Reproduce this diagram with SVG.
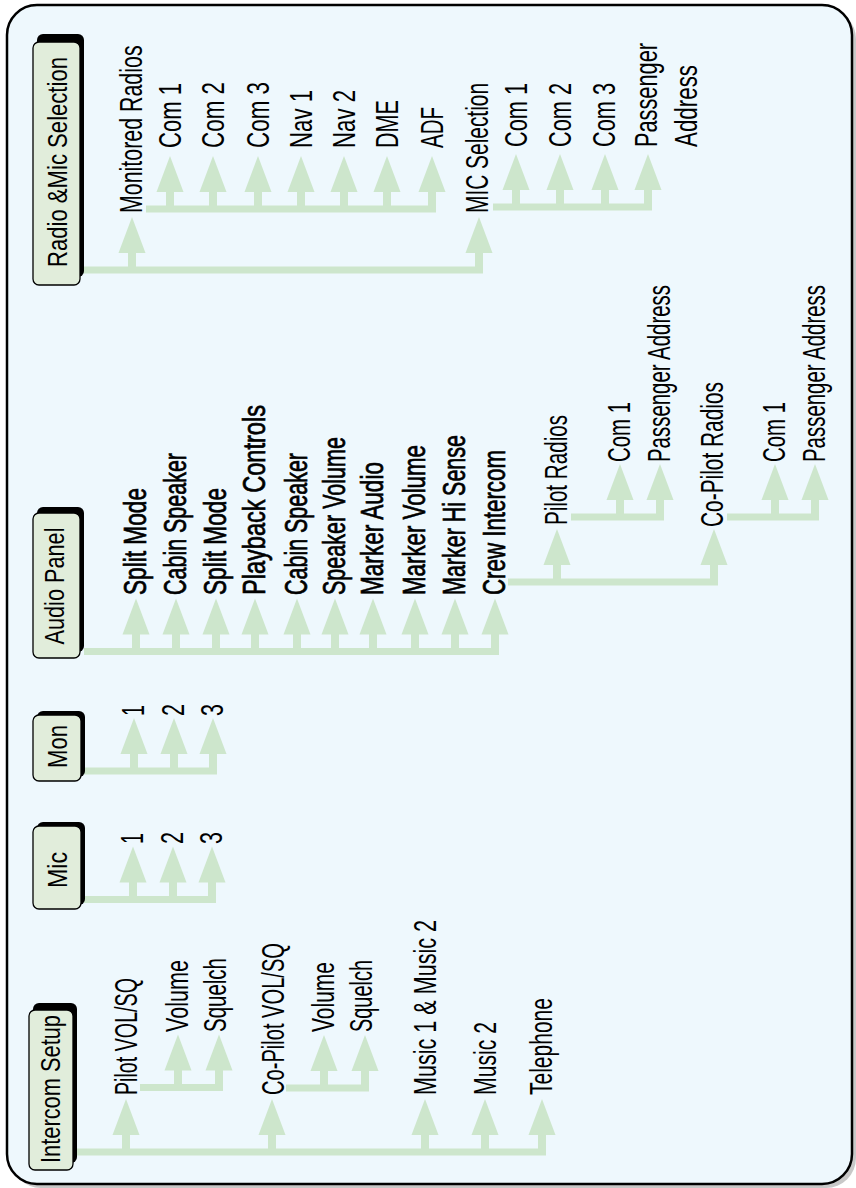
<svg xmlns="http://www.w3.org/2000/svg" xmlns:xlink="http://www.w3.org/1999/xlink" width="856" height="1188" viewBox="0 0 856 1188">
<defs>
<style>
.frame{fill:#eef8fd;stroke:#000;stroke-width:2.5}
.fsh{fill:#c8c8c8}
.box{fill:#e1eddb;stroke:#000;stroke-width:1.3}
.bsh{fill:#000}
.nt{font-family:"Liberation Sans",Arial,sans-serif;font-size:28px;fill:#000;text-anchor:middle}
.l{font-family:"Liberation Sans",Arial,sans-serif;font-size:31px;fill:#000}
.b{stroke:#000;stroke-width:0.7}
.tr{stroke:#cde6cc;stroke-width:7;fill:none}
.ar{fill:#cde6cc}
</style>
<g id="a" class="ar"><polygon points="0,-53 13.5,-17 -13.5,-17"/><rect x="-4" y="-18" width="8" height="18"/></g>
</defs>
<rect class="fsh" x="11" y="9" width="845" height="1179" rx="30"/>
<rect class="frame" x="7" y="5" width="845" height="1179" rx="30"/>

<g id="connectors">
<line class="tr" x1="83" y1="270" x2="483" y2="270"/>
<line class="tr" x1="146" y1="209" x2="436" y2="209"/>
<line class="tr" x1="493" y1="207" x2="652" y2="207"/>
<line class="tr" x1="84" y1="651.5" x2="499" y2="651.5"/>
<line class="tr" x1="508" y1="582" x2="718" y2="582"/>
<line class="tr" x1="571" y1="517" x2="664" y2="517"/>
<line class="tr" x1="727" y1="517" x2="819" y2="517"/>
<line class="tr" x1="84" y1="771" x2="217" y2="771"/>
<line class="tr" x1="84" y1="899.5" x2="216" y2="899.5"/>
<line class="tr" x1="73" y1="1152" x2="546" y2="1152"/>
<line class="tr" x1="140" y1="1087.5" x2="223" y2="1087.5"/>
<line class="tr" x1="286" y1="1088" x2="369" y2="1088"/>
<use href="#a" x="132" y="270"/><use href="#a" x="479" y="270"/>
<use href="#a" x="170" y="209"/><use href="#a" x="213" y="209"/><use href="#a" x="258" y="209"/><use href="#a" x="301" y="209"/><use href="#a" x="344" y="209"/><use href="#a" x="387" y="209"/><use href="#a" x="432" y="209"/>
<use href="#a" x="516" y="207"/><use href="#a" x="560" y="207"/><use href="#a" x="605" y="207"/><use href="#a" x="648" y="207"/>
<use href="#a" x="136" y="651.5"/><use href="#a" x="176" y="651.5"/><use href="#a" x="216" y="651.5"/><use href="#a" x="255" y="651.5"/><use href="#a" x="297" y="651.5"/><use href="#a" x="335" y="651.5"/><use href="#a" x="373" y="651.5"/><use href="#a" x="415" y="651.5"/><use href="#a" x="455" y="651.5"/><use href="#a" x="495" y="651.5"/>
<use href="#a" x="557" y="582"/><use href="#a" x="714" y="582"/>
<use href="#a" x="620" y="517"/><use href="#a" x="660" y="517"/><use href="#a" x="775" y="517"/><use href="#a" x="815" y="517"/>
<use href="#a" x="134" y="771"/><use href="#a" x="174" y="771"/><use href="#a" x="213" y="771"/>
<use href="#a" x="133" y="899.5"/><use href="#a" x="173" y="899.5"/><use href="#a" x="212" y="899.5"/>
<use href="#a" x="126" y="1152"/><use href="#a" x="272" y="1152"/><use href="#a" x="425" y="1152"/><use href="#a" x="485" y="1152"/><use href="#a" x="542" y="1152"/>
<use href="#a" x="178" y="1087.5"/><use href="#a" x="219" y="1087.5"/><use href="#a" x="324" y="1088"/><use href="#a" x="365" y="1088"/>
</g>

<g id="node-radio-mic">
<rect class="bsh" x="37" y="34" width="47" height="243" rx="6"/>
<rect class="box" x="33" y="42" width="47" height="243" rx="6"/>
<text class="nt" transform="translate(67,162) rotate(-90)" textLength="210" lengthAdjust="spacingAndGlyphs">Radio &amp;Mic Selection</text>
</g>
<g id="node-audio-panel">
<rect class="bsh" x="37" y="507" width="47" height="145" rx="6"/>
<rect class="box" x="33" y="513" width="47" height="145" rx="6"/>
<text class="nt" transform="translate(64,586) rotate(-90)" textLength="117" lengthAdjust="spacingAndGlyphs">Audio Panel</text>
</g>
<g id="node-mon">
<rect class="bsh" x="37" y="711" width="48" height="66" rx="6"/>
<rect class="box" x="33" y="715" width="48" height="66" rx="6"/>
<text class="nt" transform="translate(67,746.5) rotate(-90)" textLength="43" lengthAdjust="spacingAndGlyphs">Mon</text>
</g>
<g id="node-mic">
<rect class="bsh" x="37" y="822" width="48" height="83" rx="6"/>
<rect class="box" x="33" y="826" width="48" height="83" rx="6"/>
<text class="nt" transform="translate(67,870) rotate(-90)" textLength="36" lengthAdjust="spacingAndGlyphs">Mic</text>
</g>
<g id="node-intercom">
<rect class="bsh" x="33" y="1003" width="44" height="160" rx="6"/>
<rect class="box" x="29" y="1010" width="44" height="160" rx="6"/>
<text class="nt" transform="translate(60,1089) rotate(-90)" textLength="148" lengthAdjust="spacingAndGlyphs">Intercom Setup</text>
</g>

<g id="radio-children">
<g id="n-monitored"><text class="l" transform="translate(142,213) rotate(-90) scale(0.69,1)">Monitored Radios</text></g>
<g id="n-r-com1"><text class="l" transform="translate(181,148) rotate(-90)" textLength="65" lengthAdjust="spacingAndGlyphs">Com 1</text></g>
<g id="n-r-com2"><text class="l" transform="translate(224,148) rotate(-90)" textLength="66" lengthAdjust="spacingAndGlyphs">Com 2</text></g>
<g id="n-r-com3"><text class="l" transform="translate(269,148) rotate(-90)" textLength="66" lengthAdjust="spacingAndGlyphs">Com 3</text></g>
<g id="n-r-nav1"><text class="l" transform="translate(312,148) rotate(-90)" textLength="58" lengthAdjust="spacingAndGlyphs">Nav 1</text></g>
<g id="n-r-nav2"><text class="l" transform="translate(355,148) rotate(-90)" textLength="58" lengthAdjust="spacingAndGlyphs">Nav 2</text></g>
<g id="n-r-dme"><text class="l" transform="translate(398,148) rotate(-90)" textLength="48" lengthAdjust="spacingAndGlyphs">DME</text></g>
<g id="n-r-adf"><text class="l" transform="translate(443,148) rotate(-90)" textLength="41" lengthAdjust="spacingAndGlyphs">ADF</text></g>
<g id="n-mic-sel"><text class="l" transform="translate(488,213) rotate(-90)" textLength="130" lengthAdjust="spacingAndGlyphs">MIC Selection</text></g>
<g id="n-m-com1"><text class="l" transform="translate(527,147) rotate(-90)" textLength="64" lengthAdjust="spacingAndGlyphs">Com 1</text></g>
<g id="n-m-com2"><text class="l" transform="translate(571,147) rotate(-90)" textLength="64" lengthAdjust="spacingAndGlyphs">Com 2</text></g>
<g id="n-m-com3"><text class="l" transform="translate(615,147) rotate(-90)" textLength="64" lengthAdjust="spacingAndGlyphs">Com 3</text></g>
<g id="n-m-pa"><text class="l" transform="translate(657,147) rotate(-90)" textLength="104" lengthAdjust="spacingAndGlyphs">Passenger</text><text class="l" transform="translate(697,147) rotate(-90)" textLength="82" lengthAdjust="spacingAndGlyphs">Address</text></g>
</g>

<g id="audio-children">
<g id="n-a1"><text class="l b" transform="translate(146,595) rotate(-90)" textLength="107" lengthAdjust="spacingAndGlyphs">Split Mode</text></g>
<g id="n-a2"><text class="l b" transform="translate(186,595) rotate(-90)" textLength="142" lengthAdjust="spacingAndGlyphs">Cabin Speaker</text></g>
<g id="n-a3"><text class="l b" transform="translate(226,595) rotate(-90)" textLength="107" lengthAdjust="spacingAndGlyphs">Split Mode</text></g>
<g id="n-a4"><text class="l b" transform="translate(265,595) rotate(-90)" textLength="190" lengthAdjust="spacingAndGlyphs">Playback Controls</text></g>
<g id="n-a5"><text class="l b" transform="translate(307,595) rotate(-90)" textLength="142" lengthAdjust="spacingAndGlyphs">Cabin Speaker</text></g>
<g id="n-a6"><text class="l b" transform="translate(345,595) rotate(-90)" textLength="158" lengthAdjust="spacingAndGlyphs">Speaker Volume</text></g>
<g id="n-a7"><text class="l b" transform="translate(383,595) rotate(-90)" textLength="133" lengthAdjust="spacingAndGlyphs">Marker Audio</text></g>
<g id="n-a8"><text class="l b" transform="translate(425,595) rotate(-90)" textLength="150" lengthAdjust="spacingAndGlyphs">Marker Volume</text></g>
<g id="n-a9"><text class="l b" transform="translate(465,595) rotate(-90)" textLength="160" lengthAdjust="spacingAndGlyphs">Marker Hi Sense</text></g>
<g id="n-a10"><text class="l b" transform="translate(505,595) rotate(-90)" textLength="145" lengthAdjust="spacingAndGlyphs">Crew Intercom</text></g>
<g id="n-pilot-radios"><text class="l" transform="translate(567,525) rotate(-90)" textLength="110" lengthAdjust="spacingAndGlyphs">Pilot Radios</text></g>
<g id="n-p-com1"><text class="l" transform="translate(630,462) rotate(-90)" textLength="60" lengthAdjust="spacingAndGlyphs">Com 1</text></g>
<g id="n-p-pa"><text class="l" transform="translate(670,462) rotate(-90)" textLength="177" lengthAdjust="spacingAndGlyphs">Passenger Address</text></g>
<g id="n-copilot-radios"><text class="l" transform="translate(723,527) rotate(-90)" textLength="145" lengthAdjust="spacingAndGlyphs">Co-Pilot Radios</text></g>
<g id="n-c-com1"><text class="l" transform="translate(785,462) rotate(-90)" textLength="60" lengthAdjust="spacingAndGlyphs">Com 1</text></g>
<g id="n-c-pa"><text class="l" transform="translate(825,462) rotate(-90)" textLength="177" lengthAdjust="spacingAndGlyphs">Passenger Address</text></g>
</g>

<g id="mon-children">
<g id="n-mon1"><text class="l" transform="translate(144,716) rotate(-90)" textLength="11" lengthAdjust="spacingAndGlyphs">1</text></g>
<g id="n-mon2"><text class="l" transform="translate(184,716) rotate(-90)" textLength="12" lengthAdjust="spacingAndGlyphs">2</text></g>
<g id="n-mon3"><text class="l" transform="translate(223,716) rotate(-90)" textLength="12" lengthAdjust="spacingAndGlyphs">3</text></g>
</g>
<g id="mic-children">
<g id="n-mic1"><text class="l" transform="translate(143,844) rotate(-90)" textLength="11" lengthAdjust="spacingAndGlyphs">1</text></g>
<g id="n-mic2"><text class="l" transform="translate(183,844) rotate(-90)" textLength="12" lengthAdjust="spacingAndGlyphs">2</text></g>
<g id="n-mic3"><text class="l" transform="translate(222,844) rotate(-90)" textLength="12" lengthAdjust="spacingAndGlyphs">3</text></g>
</g>

<g id="intercom-children">
<g id="n-pilot-volsq"><text class="l" transform="translate(137,1095) rotate(-90)" textLength="117" lengthAdjust="spacingAndGlyphs">Pilot VOL/SQ</text></g>
<g id="n-p-vol"><text class="l" transform="translate(188,1032) rotate(-90)" textLength="72" lengthAdjust="spacingAndGlyphs">Volume</text></g>
<g id="n-p-sq"><text class="l" transform="translate(226,1032) rotate(-90)" textLength="74" lengthAdjust="spacingAndGlyphs">Squelch</text></g>
<g id="n-copilot-volsq"><text class="l" transform="translate(284,1095) rotate(-90)" textLength="152" lengthAdjust="spacingAndGlyphs">Co-Pilot VOL/SQ</text></g>
<g id="n-c-vol"><text class="l" transform="translate(334,1032) rotate(-90)" textLength="70" lengthAdjust="spacingAndGlyphs">Volume</text></g>
<g id="n-c-sq"><text class="l" transform="translate(372,1032) rotate(-90)" textLength="72" lengthAdjust="spacingAndGlyphs">Squelch</text></g>
<g id="n-music12"><text class="l" transform="translate(436,1095) rotate(-90)" textLength="175" lengthAdjust="spacingAndGlyphs">Music 1  &amp; Music 2</text></g>
<g id="n-music2"><text class="l" transform="translate(496,1095) rotate(-90)" textLength="73" lengthAdjust="spacingAndGlyphs">Music 2</text></g>
<g id="n-telephone"><text class="l" transform="translate(552,1095) rotate(-90)" textLength="97" lengthAdjust="spacingAndGlyphs">Telephone</text></g>
</g>
</svg>
